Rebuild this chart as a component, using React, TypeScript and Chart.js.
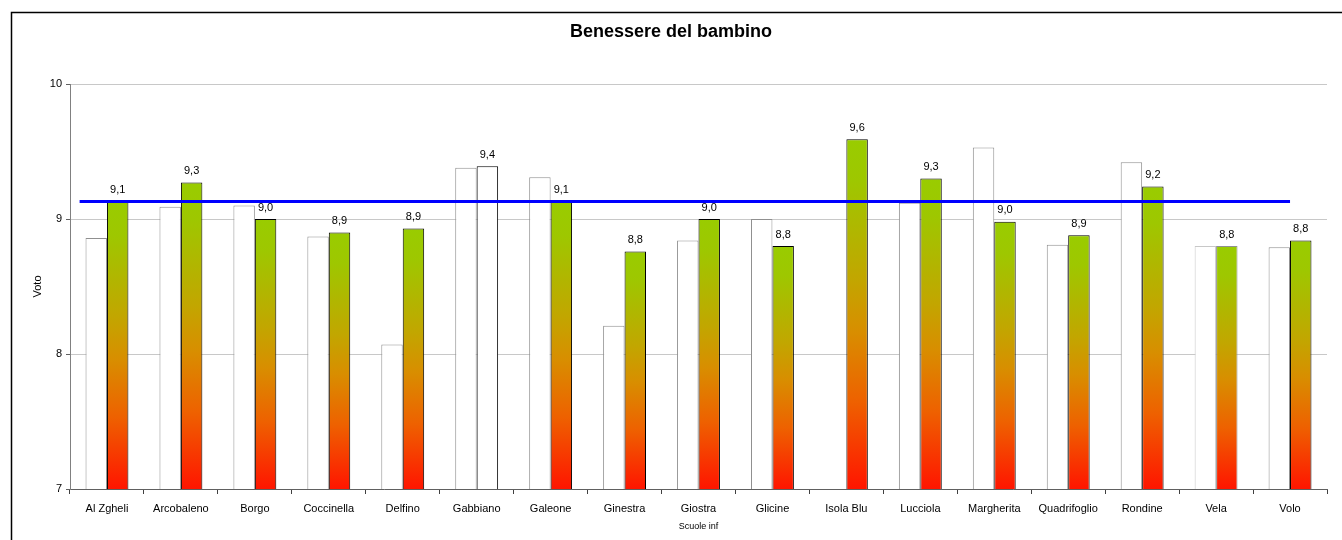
import React, { useEffect, useRef } from 'react';
import { Chart, registerables } from 'chart.js';

Chart.register(...registerables);

const categories = [
  'Al Zgheli', 'Arcobaleno', 'Borgo', 'Coccinella', 'Delfino', 'Gabbiano', 'Galeone',
  'Ginestra', 'Giostra', 'Glicine', 'Isola Blu', 'Lucciola', 'Margherita',
  'Quadrifoglio', 'Rondine', 'Vela', 'Volo',
];
const previousValues = [8.86, 9.09, 9.10, 8.87, 8.07, 9.38, 9.31, 8.21, 8.84, 9.00, null, 9.12, 9.53, 8.81, 9.42, 8.80, 8.79];
const currentValues = [9.13, 9.27, 9.00, 8.90, 8.93, 9.39, 9.13, 8.76, 9.00, 8.80, 9.59, 9.30, 8.98, 8.88, 9.24, 8.80, 8.84];
const averageValue = 9.13;
const yMin = 7;
const yMax = 10;
const titleText = 'Benessere del bambino';
const xTitle = 'Scuole inf';
const yTitle = 'Voto';

const FONT = "'Liberation Sans', Arial, sans-serif";

const framePlugin = {
  id: 'frame',
  beforeDraw(chart: any) {
    const c = chart.ctx;
    c.save();
    c.fillStyle = '#ffffff';
    c.fillRect(0, 0, chart.width, chart.height);
    c.restore();
  },
  afterDraw(chart: any) {
    const c = chart.ctx;
    c.save();
    c.strokeStyle = '#000000';
    c.lineWidth = 1.5;
    c.strokeRect(11.5, 12.5, chart.width + 20, chart.height + 20);
    c.restore();
  },
};

const averageLinePlugin = {
  id: 'averageLine',
  afterDatasetsDraw(chart: any) {
    const x = chart.scales.x;
    const y = chart.scales.y;
    const c = chart.ctx;
    const step = x.getPixelForValue(1) - x.getPixelForValue(0);
    const x0 = x.getPixelForValue(0) - step * 0.37;
    const x1 = x.getPixelForValue(categories.length - 1);
    const py = y.getPixelForValue(averageValue);
    c.save();
    c.strokeStyle = '#0000FF';
    c.lineWidth = 3;
    c.beginPath();
    c.moveTo(x0, py);
    c.lineTo(x1, py);
    c.stroke();
    c.restore();
  },
};

const valueLabelPlugin = {
  id: 'valueLabels',
  afterDraw(chart: any) {
    const meta = chart.getDatasetMeta(1);
    const c = chart.ctx;
    c.save();
    c.font = `11px ${FONT}`;
    c.fillStyle = '#000000';
    c.textAlign = 'center';
    c.textBaseline = 'bottom';
    meta.data.forEach((el: any, i: number) => {
      const v = currentValues[i];
      if (v == null) return;
      c.fillText(v.toFixed(1).replace('.', ','), el.x, el.y - 6);
    });
    c.restore();
  },
};

function barGradient(ctx: any) {
  const chart = ctx.chart;
  if (ctx.type !== 'data' || !chart.chartArea || !chart.scales.y) return '#99CC00';
  if (categories[ctx.dataIndex] === 'Gabbiano') return '#FFFFFF';
  const v = ctx.raw as number;
  const top = chart.scales.y.getPixelForValue(v);
  const bottom = chart.scales.y.getPixelForValue(yMin);
  const g = chart.ctx.createLinearGradient(0, top, 0, bottom);
  g.addColorStop(0, '#99CC00');
  g.addColorStop(0.12, '#9EC700');
  g.addColorStop(0.4, '#C2A600');
  g.addColorStop(0.55, '#D88E00');
  g.addColorStop(0.75, '#EE6100');
  g.addColorStop(1, '#FF1500');
  return g;
}

export default function App() {
  const canvasRef = useRef<HTMLCanvasElement | null>(null);

  useEffect(() => {
    if (!canvasRef.current) return;
    const chart = new Chart(canvasRef.current, {
      type: 'bar',
      data: {
        labels: categories,
        datasets: [
          {
            label: 'Precedente',
            data: previousValues as any,
            backgroundColor: '#FFFFFF',
            borderColor: categories.map((c) => (c === 'Vela' ? '#C8C8C8' : '#909090')),
            borderWidth: 1,
            categoryPercentage: 0.58,
            barPercentage: 1,
          },
          {
            label: 'Attuale',
            data: currentValues,
            backgroundColor: barGradient as any,
            borderColor: categories.map((c) => (c === 'Vela' ? '#909090' : '#000000')),
            borderWidth: 1,
            categoryPercentage: 0.58,
            barPercentage: 1,
          },
        ],
      },
      options: {
        responsive: false,
        animation: false,
        layout: { padding: { left: 15, right: 15, top: 0, bottom: 0 } },
        plugins: {
          legend: { display: false },
          tooltip: { enabled: false },
          title: {
            display: true,
            text: titleText,
            color: '#000000',
            font: { family: FONT, size: 18, weight: 'bold' },
            padding: { top: 21, bottom: 41.4 },
          },
        },
        scales: {
          x: {
            grid: {
              display: true,
              drawOnChartArea: false,
              drawTicks: true,
              tickLength: 5,
              tickColor: '#404040',
              offset: true,
            },
            border: { color: '#606060', width: 1 },
            ticks: {
              color: '#000000',
              font: { family: FONT, size: 11 },
              padding: 8,
              maxRotation: 0,
              autoSkip: false,
            },
            title: {
              display: true,
              text: xTitle,
              color: '#000000',
              font: { family: FONT, size: 9 },
              padding: { top: 0, bottom: 8 },
            },
            afterFit: (scale: any) => {
              scale.height = 51;
            },
          },
          y: {
            min: yMin,
            max: yMax,
            ticks: {
              stepSize: 1,
              color: '#000000',
              font: { family: FONT, size: 11 },
              padding: 4,
            },
            grid: {
              color: '#C8C8C8',
              tickColor: '#606060',
              tickLength: 4,
            },
            border: { color: '#808080', width: 1 },
            title: {
              display: true,
              text: yTitle,
              color: '#000000',
              font: { family: FONT, size: 11 },
              padding: { top: 16, bottom: 0 },
            },
            afterFit: (scale: any) => {
              scale.width = 55;
            },
          },
        },
      } as any,
      plugins: [framePlugin, averageLinePlugin, valueLabelPlugin],
    });
    return () => chart.destroy();
  }, []);

  return (
    <div style={{ position: 'absolute', left: 0, top: 0, width: 1342, height: 540 }}>
      <canvas ref={canvasRef} width={1342} height={540} />
    </div>
  );
}
